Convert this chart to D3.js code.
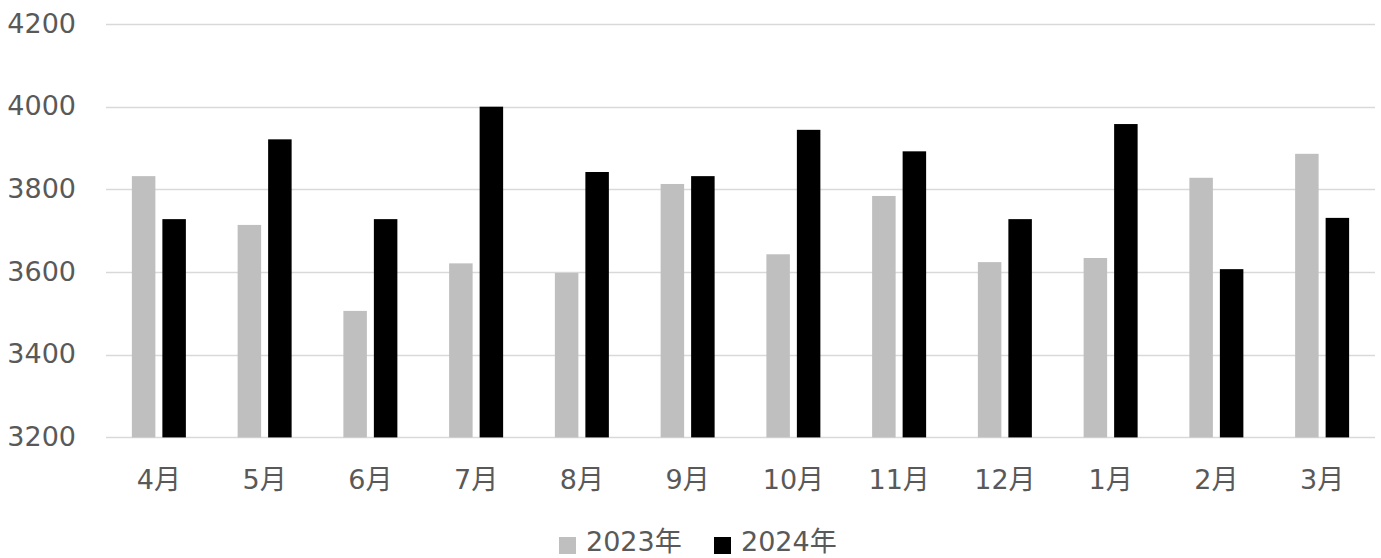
<!DOCTYPE html>
<html><head><meta charset="utf-8">
<script src="https://cdn.jsdelivr.net/npm/d3@7"></script>
<style>body{margin:0;background:#fff}svg{display:block}text{font-family:"DejaVu Sans","Noto Sans CJK JP",sans-serif;fill:#595959}</style>
</head><body>
<script>
const categories = ["4月","5月","6月","7月","8月","9月","10月","11月","12月","1月","2月","3月"];
const seriesNames = ["2023年","2024年"];
const values2023 = [3832,3714,3506,3621,3598,3813,3643,3784,3624,3634,3828,3886];
const values2024 = [3728,3921,3728,4000,3842,3832,3944,3892,3728,3958,3607,3731];
const yTicks = [3200,3400,3600,3800,4000,4200];
const colors = ["#bfbfbf","#000000"];

const W = 1381, H = 558;
const svg = d3.select("body").append("svg").attr("width", W).attr("height", H);
const x = d3.scaleBand().domain(categories).range([106, 1375]);
const y = d3.scaleLinear().domain([3200, 4200]).range([437.4, 24]);
const inner = d3.scaleBand().domain(seriesNames).range([0, 54]).paddingInner(0.2295);

// gridlines
svg.append("g").selectAll("line").data(yTicks).join("line")
  .attr("x1", 106).attr("x2", 1375)
  .attr("y1", d => Math.round(y(d)) + 0.5).attr("y2", d => Math.round(y(d)) + 0.5)
  .attr("stroke", "#d9d9d9").attr("stroke-width", 1.5);

// y axis labels
const yAxis = d3.axisLeft(y).tickValues(yTicks).tickFormat(d3.format("d")).tickSize(0).tickPadding(0);
const gy = svg.append("g").attr("transform", "translate(76,0)").call(yAxis);
gy.select(".domain").remove();
gy.selectAll("text").style("font-size", "27px").style("font-family", null).attr("fill", "#595959").attr("dy", "0.3em");

// bars
const data = categories.map((c, i) => ({c, vals: [values2023[i], values2024[i]]}));
const groups = svg.append("g").selectAll("g").data(data).join("g")
  .attr("transform", d => `translate(${x(d.c) + x.bandwidth()/2 - 27},0)`);
groups.selectAll("rect").data(d => d.vals.map((v, j) => ({v, s: seriesNames[j], j}))).join("rect")
  .attr("x", d => inner(d.s))
  .attr("width", inner.bandwidth())
  .attr("y", d => y(d.v))
  .attr("height", d => y(3200) - y(d.v))
  .attr("fill", d => colors[d.j]);

// x axis labels
const xAxis = d3.axisBottom(x).tickSize(0).tickPadding(0);
const gx = svg.append("g").attr("transform", "translate(0,470)").call(xAxis);
gx.select(".domain").remove();
gx.selectAll("text").style("font-size", "27px").attr("fill", "#595959").attr("dy", "0.72em");
svg.selectAll(".tick text").attr("font-family", null);

// legend
const legend = svg.append("g");
const lx = [559, 714];
seriesNames.forEach((s, i) => {
  legend.append("rect").attr("x", lx[i]).attr("y", 537).attr("width", 17).attr("height", 17).attr("fill", colors[i]);
  legend.append("text").attr("x", lx[i] + 27).attr("y", 551)
    .style("font-size", "27px").text(s);
});
</script>
</body></html>
